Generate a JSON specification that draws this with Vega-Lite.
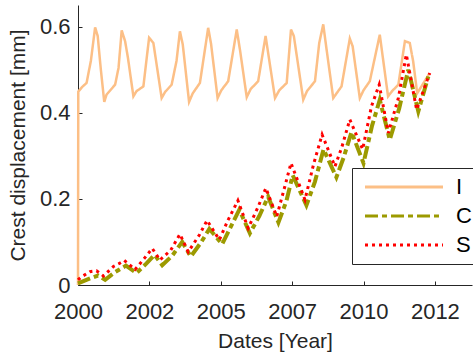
{
  "$schema": "https://vega.github.io/schema/vega-lite/v6.json",
  "width": 394,
  "height": 280,
  "autosize": {"type": "none"},
  "padding": {"left": 78, "top": 5, "right": 1, "bottom": 67},
  "background": "white",
  "config": {
    "view": {"stroke": null},
    "font": "Liberation Sans",
    "axis": {"grid": false, "domainColor": "#262626", "tickColor": "#262626", "labelColor": "#262626", "titleColor": "#262626", "labelFont": "Liberation Sans", "titleFont": "Liberation Sans", "labelFontSize": 22, "titleFontSize": 21, "titleFontWeight": "normal", "tickSize": -4, "domainWidth": 1}
  },
  "datasets": {
    "rows": [
      {"t": 2000.00, "v": 0.000, "s": "I"},
      {"t": 2000.01, "v": 0.449, "s": "I"},
      {"t": 2000.15, "v": 0.460, "s": "I"},
      {"t": 2000.30, "v": 0.469, "s": "I"},
      {"t": 2000.45, "v": 0.520, "s": "I"},
      {"t": 2000.60, "v": 0.598, "s": "I"},
      {"t": 2000.69, "v": 0.578, "s": "I"},
      {"t": 2000.80, "v": 0.500, "s": "I"},
      {"t": 2000.92, "v": 0.425, "s": "I"},
      {"t": 2001.00, "v": 0.442, "s": "I"},
      {"t": 2001.30, "v": 0.465, "s": "I"},
      {"t": 2001.42, "v": 0.504, "s": "I"},
      {"t": 2001.53, "v": 0.591, "s": "I"},
      {"t": 2001.65, "v": 0.566, "s": "I"},
      {"t": 2001.75, "v": 0.527, "s": "I"},
      {"t": 2001.94, "v": 0.438, "s": "I"},
      {"t": 2002.05, "v": 0.450, "s": "I"},
      {"t": 2002.29, "v": 0.461, "s": "I"},
      {"t": 2002.49, "v": 0.574, "s": "I"},
      {"t": 2002.64, "v": 0.562, "s": "I"},
      {"t": 2002.93, "v": 0.434, "s": "I"},
      {"t": 2003.05, "v": 0.448, "s": "I"},
      {"t": 2003.28, "v": 0.465, "s": "I"},
      {"t": 2003.45, "v": 0.520, "s": "I"},
      {"t": 2003.57, "v": 0.589, "s": "I"},
      {"t": 2003.67, "v": 0.558, "s": "I"},
      {"t": 2003.89, "v": 0.425, "s": "I"},
      {"t": 2004.02, "v": 0.445, "s": "I"},
      {"t": 2004.27, "v": 0.469, "s": "I"},
      {"t": 2004.56, "v": 0.597, "s": "I"},
      {"t": 2004.66, "v": 0.560, "s": "I"},
      {"t": 2004.89, "v": 0.434, "s": "I"},
      {"t": 2005.02, "v": 0.452, "s": "I"},
      {"t": 2005.26, "v": 0.473, "s": "I"},
      {"t": 2005.56, "v": 0.593, "s": "I"},
      {"t": 2005.68, "v": 0.543, "s": "I"},
      {"t": 2005.91, "v": 0.436, "s": "I"},
      {"t": 2006.05, "v": 0.455, "s": "I"},
      {"t": 2006.31, "v": 0.473, "s": "I"},
      {"t": 2006.57, "v": 0.578, "s": "I"},
      {"t": 2006.90, "v": 0.434, "s": "I"},
      {"t": 2007.05, "v": 0.452, "s": "I"},
      {"t": 2007.31, "v": 0.469, "s": "I"},
      {"t": 2007.46, "v": 0.593, "s": "I"},
      {"t": 2007.56, "v": 0.578, "s": "I"},
      {"t": 2007.89, "v": 0.430, "s": "I"},
      {"t": 2008.02, "v": 0.450, "s": "I"},
      {"t": 2008.30, "v": 0.473, "s": "I"},
      {"t": 2008.45, "v": 0.562, "s": "I"},
      {"t": 2008.59, "v": 0.605, "s": "I"},
      {"t": 2008.70, "v": 0.550, "s": "I"},
      {"t": 2008.94, "v": 0.434, "s": "I"},
      {"t": 2009.23, "v": 0.461, "s": "I"},
      {"t": 2009.52, "v": 0.572, "s": "I"},
      {"t": 2009.62, "v": 0.554, "s": "I"},
      {"t": 2009.87, "v": 0.434, "s": "I"},
      {"t": 2010.00, "v": 0.452, "s": "I"},
      {"t": 2010.22, "v": 0.473, "s": "I"},
      {"t": 2010.57, "v": 0.581, "s": "I"},
      {"t": 2010.86, "v": 0.438, "s": "I"},
      {"t": 2011.00, "v": 0.450, "s": "I"},
      {"t": 2011.22, "v": 0.465, "s": "I"},
      {"t": 2011.45, "v": 0.566, "s": "I"},
      {"t": 2011.62, "v": 0.562, "s": "I"},
      {"t": 2011.74, "v": 0.519, "s": "I"},
      {"t": 2011.88, "v": 0.445, "s": "I"},
      {"t": 2012.30, "v": 0.490, "s": "I"},

      {"t": 2000.00, "v": 0.004, "s": "C"},
      {"t": 2000.45, "v": 0.016, "s": "C"},
      {"t": 2000.70, "v": 0.022, "s": "C"},
      {"t": 2000.95, "v": 0.012, "s": "C"},
      {"t": 2001.30, "v": 0.030, "s": "C"},
      {"t": 2001.68, "v": 0.045, "s": "C"},
      {"t": 2002.05, "v": 0.028, "s": "C"},
      {"t": 2002.40, "v": 0.050, "s": "C"},
      {"t": 2002.68, "v": 0.070, "s": "C"},
      {"t": 2002.95, "v": 0.046, "s": "C"},
      {"t": 2003.30, "v": 0.068, "s": "C"},
      {"t": 2003.65, "v": 0.100, "s": "C"},
      {"t": 2003.95, "v": 0.066, "s": "C"},
      {"t": 2004.30, "v": 0.098, "s": "C"},
      {"t": 2004.60, "v": 0.130, "s": "C"},
      {"t": 2005.05, "v": 0.095, "s": "C"},
      {"t": 2005.35, "v": 0.135, "s": "C"},
      {"t": 2005.65, "v": 0.175, "s": "C"},
      {"t": 2006.02, "v": 0.120, "s": "C"},
      {"t": 2006.35, "v": 0.160, "s": "C"},
      {"t": 2006.66, "v": 0.205, "s": "C"},
      {"t": 2007.02, "v": 0.145, "s": "C"},
      {"t": 2007.30, "v": 0.195, "s": "C"},
      {"t": 2007.52, "v": 0.255, "s": "C"},
      {"t": 2008.00, "v": 0.185, "s": "C"},
      {"t": 2008.30, "v": 0.240, "s": "C"},
      {"t": 2008.60, "v": 0.315, "s": "C"},
      {"t": 2009.05, "v": 0.250, "s": "C"},
      {"t": 2009.30, "v": 0.295, "s": "C"},
      {"t": 2009.58, "v": 0.355, "s": "C"},
      {"t": 2010.00, "v": 0.283, "s": "C"},
      {"t": 2010.30, "v": 0.370, "s": "C"},
      {"t": 2010.57, "v": 0.430, "s": "C"},
      {"t": 2010.92, "v": 0.337, "s": "C"},
      {"t": 2011.25, "v": 0.410, "s": "C"},
      {"t": 2011.57, "v": 0.500, "s": "C"},
      {"t": 2011.92, "v": 0.403, "s": "C"},
      {"t": 2012.27, "v": 0.484, "s": "C"},

      {"t": 2000.00, "v": 0.012, "s": "S"},
      {"t": 2000.10, "v": 0.018, "s": "S"},
      {"t": 2000.42, "v": 0.031, "s": "S"},
      {"t": 2000.65, "v": 0.033, "s": "S"},
      {"t": 2000.89, "v": 0.021, "s": "S"},
      {"t": 2001.24, "v": 0.043, "s": "S"},
      {"t": 2001.45, "v": 0.050, "s": "S"},
      {"t": 2001.62, "v": 0.057, "s": "S"},
      {"t": 2002.00, "v": 0.036, "s": "S"},
      {"t": 2002.35, "v": 0.064, "s": "S"},
      {"t": 2002.60, "v": 0.085, "s": "S"},
      {"t": 2002.87, "v": 0.058, "s": "S"},
      {"t": 2003.25, "v": 0.081, "s": "S"},
      {"t": 2003.57, "v": 0.118, "s": "S"},
      {"t": 2003.86, "v": 0.077, "s": "S"},
      {"t": 2004.25, "v": 0.116, "s": "S"},
      {"t": 2004.52, "v": 0.150, "s": "S"},
      {"t": 2004.95, "v": 0.105, "s": "S"},
      {"t": 2005.25, "v": 0.150, "s": "S"},
      {"t": 2005.60, "v": 0.196, "s": "S"},
      {"t": 2005.96, "v": 0.132, "s": "S"},
      {"t": 2006.30, "v": 0.180, "s": "S"},
      {"t": 2006.58, "v": 0.225, "s": "S"},
      {"t": 2006.96, "v": 0.159, "s": "S"},
      {"t": 2007.25, "v": 0.230, "s": "S"},
      {"t": 2007.46, "v": 0.283, "s": "S"},
      {"t": 2007.95, "v": 0.198, "s": "S"},
      {"t": 2008.25, "v": 0.280, "s": "S"},
      {"t": 2008.55, "v": 0.349, "s": "S"},
      {"t": 2009.00, "v": 0.275, "s": "S"},
      {"t": 2009.25, "v": 0.322, "s": "S"},
      {"t": 2009.52, "v": 0.384, "s": "S"},
      {"t": 2009.97, "v": 0.315, "s": "S"},
      {"t": 2010.28, "v": 0.415, "s": "S"},
      {"t": 2010.55, "v": 0.465, "s": "S"},
      {"t": 2010.87, "v": 0.353, "s": "S"},
      {"t": 2011.22, "v": 0.434, "s": "S"},
      {"t": 2011.50, "v": 0.535, "s": "S"},
      {"t": 2011.86, "v": 0.407, "s": "S"},
      {"t": 2012.32, "v": 0.492, "s": "S"}
    ]
  },
  "data": {"name": "rows"},
  "encoding": {
    "x": {"field": "t", "type": "quantitative",
      "scale": {"domain": [2000, 2013.8], "nice": false, "zero": false},
      "axis": {"title": "Dates [Year]", "values": [2000, 2002.5, 2005, 2007.5, 2010, 2012.5], "labelExpr": "'' + floor(datum.value)", "labelPadding": 20, "titlePadding": 8, "labelFlush": false}},
    "y": {"field": "v", "type": "quantitative",
      "scale": {"domain": [0, 0.65], "nice": false},
      "axis": {"title": "Crest displacement [mm]", "values": [0, 0.2, 0.4, 0.6], "labelExpr": "datum.value == 0 ? '0' : format(datum.value, '.1f')", "labelPadding": 12, "titlePadding": 11}},
    "color": {"field": "s", "type": "nominal",
      "scale": {"domain": ["I", "C", "S"], "range": ["#fcbf86", "#9c9a00", "#ff0000"]},
      "legend": {"orient": "none", "legendX": 274, "legendY": 163, "direction": "vertical", "title": null,
        "symbolType": "M-6,0H6", "symbolSize": 169, "symbolStrokeWidth": 3, "symbolOffset": 33, "labelFontSize": 22, "labelColor": "black", "labelFont": "Liberation Sans",
        "strokeColor": "#262626", "fillColor": "white", "padding": 8, "rowPadding": 7, "labelOffset": 41}},
    "strokeDash": {"field": "s", "type": "nominal",
      "scale": {"domain": ["I", "C", "S"], "range": [[1, 0], [13, 4, 5, 4], [3, 4]]}}
  },
  "layer": [
    {"transform": [{"filter": "datum.s == 'I'"}], "mark": {"type": "line", "strokeWidth": 2.5}},
    {"transform": [{"filter": "datum.s == 'C'"}], "mark": {"type": "line", "strokeWidth": 4}},
    {"transform": [{"filter": "datum.s == 'S'"}], "mark": {"type": "line", "strokeWidth": 3}}
  ]
}
